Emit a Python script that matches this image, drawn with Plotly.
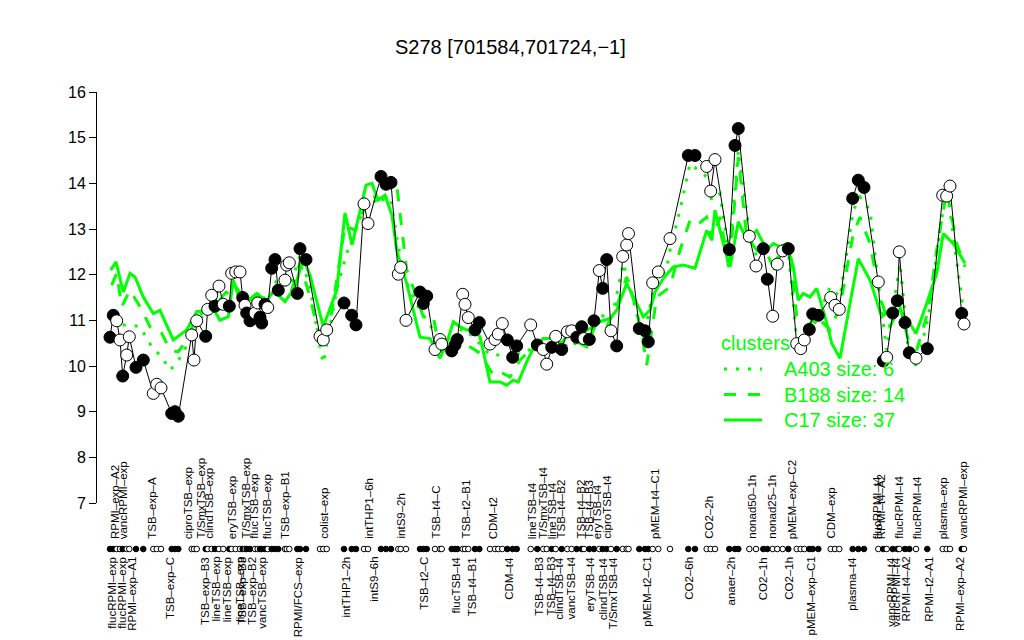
import plotly.graph_objects as go

# sample positions along the condition axis, expression values, filled marker flag
pos = [10, 13.3, 16.7, 20, 22.7, 26.7, 29.3, 36, 43.3, 53.3, 56.7, 61, 71.7, 75, 78.3,
       91.7, 94, 96.7, 105.7, 107.7, 111.7, 115, 119, 123.3, 129.3, 131.7, 135.7, 140,
       142.7, 145, 146.7, 150, 155, 157.7, 160, 161.7, 165, 167.7, 171.7, 175, 178.3,
       185, 186.7, 189.3, 197.3, 200, 206, 220, 223.3, 226.7, 244, 251.7, 256, 264, 268,
       281, 286, 291, 298.3, 300.7, 306, 320, 323.3, 326.7, 335, 340, 341.7, 351.7, 355,
       357.3, 362.7, 365, 368.3, 375, 379.3, 390, 395, 398.3, 402.3, 407.3, 412.7, 416.7,
       430.7, 437.3, 443.3, 446.7, 451.7, 455.7, 461.7, 467.3, 471.7, 476.7, 481.7, 484,
       489.3, 494, 499.3, 502.7, 506.7, 511, 516.7, 522.7, 526.7, 528.5, 539.3, 545,
       548.3, 552.7, 558.3, 570, 588.3, 595, 606.7, 610.7, 615, 629.3, 635, 638.3, 649.3,
       656, 663.3, 667.3, 672.7, 677.3, 682.7, 688.3, 696.7, 700.7, 704.3, 709.3, 712.7,
       718.3, 730.7, 735, 739.3, 752.7, 758.3, 764, 778.3, 783.3, 786.7, 792.7, 797.3,
       799.3, 805, 809.3, 816, 827.3, 842.7, 846.7, 850, 861.7, 864]
expr = [10.63, 11.11, 10.99, 10.57, 9.78, 10.24, 10.64, 9.97, 10.13, 9.40, 9.60, 9.52, 8.96,
        9.00, 8.90, 10.68, 10.13, 10.99, 10.65, 11.24, 11.55, 11.31, 11.75, 11.35, 11.31,
        12.03, 12.06, 12.06, 11.50, 11.33, 11.16, 10.99, 11.16, 11.38, 11.07, 10.94, 11.35,
        11.28, 12.14, 12.33, 11.66, 11.88, 12.21, 12.26, 11.59, 12.57, 12.33, 10.65, 10.57,
        10.79, 11.38, 11.11, 10.90, 13.55, 13.12, 14.15, 13.98, 14.02, 12.01, 12.16, 11.00,
        11.62, 11.37, 11.53, 10.36, 10.58, 10.48, 10.33, 10.46, 10.58, 11.57, 11.35, 11.06,
        10.79, 10.95, 10.48, 10.58, 10.70, 10.93, 10.57, 10.19, 10.44, 10.90, 10.46, 10.36,
        10.04, 10.41, 10.65, 10.36, 10.75, 10.77, 10.63, 10.86, 10.60, 10.58, 10.99, 12.09,
        11.70, 12.33, 10.77, 10.44, 12.40, 12.65, 12.90, 10.82, 10.77, 10.53, 11.82, 12.06,
        12.79, 14.61, 14.61, 14.37, 13.83, 14.52, 12.55, 14.83, 15.20, 12.84, 12.19, 12.57,
        11.90, 11.09, 12.23, 12.52, 12.57, 10.49, 10.38, 10.57, 10.80, 11.14, 11.11, 11.50,
        11.33, 11.24, 13.67, 14.07, 13.91, 11.84, 10.11, 10.19, 11.16, 11.43, 12.50, 10.95,
        10.29, 10.17, 10.38, 13.74, 13.72, 13.94, 11.15, 10.92]
filled = [1, 1, 0, 0, 1, 0, 0, 1, 1, 0, 0, 0, 1, 1, 1, 0, 0, 0, 1, 0, 0, 1, 0, 0, 1, 0, 0, 0,
          1, 0, 1, 1, 0, 0, 1, 1, 1, 0, 1, 1, 1, 0, 0, 0, 1, 1, 1, 0, 0, 0, 1, 1, 1, 0, 0,
          1, 1, 1, 0, 0, 0, 1, 1, 1, 0, 0, 0, 1, 1, 1, 0, 0, 0, 1, 1, 0, 0, 0, 0, 1, 1, 1,
          0, 1, 0, 0, 1, 0, 1, 0, 0, 1, 1, 0, 1, 1, 0, 1, 1, 0, 1, 0, 0, 0, 1, 1, 1, 0, 0,
          0, 1, 1, 0, 0, 0, 1, 1, 1, 0, 0, 1, 1, 0, 0, 0, 1, 0, 0, 0, 1, 1, 1, 0, 0, 0, 1,
          1, 1, 0, 1, 0, 1, 1, 0, 1, 1, 0, 1, 0, 0, 0, 1, 0]

# cluster mean profiles
c17_pos = [10.7, 16, 23.3, 30, 35, 43.3, 53.3, 60, 73.3, 86.7, 96.7, 106.7, 115, 120, 128.3,
           133.3, 138.3, 146.7, 156.7, 166.7, 171.7, 175, 185, 195, 203.3, 210, 223.3, 236.7,
           245, 252, 266, 272, 278, 285, 292, 296.7, 306.7, 320, 330, 340, 346.7, 353.3, 360,
           366.7, 375, 380, 390, 400, 406.7, 413.3, 418.3, 426.7, 435, 443.3, 453.3, 461.7,
           470, 480, 493.3, 500, 510, 516.7, 526.7, 536.7, 543.3, 550, 555, 563.3, 573.3,
           583.3, 595, 606.7, 611.7, 615, 623.3, 630, 638.3, 646.7, 656.7, 666.7, 673.3, 680,
           686.7, 693.3, 698.3, 703.3, 710, 716.7, 725, 731.7, 740, 750, 758.3, 770, 781.7,
           790, 800, 806.7, 816, 826.7, 836.7, 843.3, 853.3, 865]
c17_val = [12.1, 12.28, 11.62, 12.03, 11.95, 11.51, 11.15, 11.22, 10.57, 10.79, 11.19, 11.22,
           11.19, 11.0, 11.08, 11.88, 11.55, 11.41, 11.59, 11.41, 11.59, 11.62, 11.41, 11.73,
           12.35, 11.99, 10.86, 11.66, 13.35, 12.65, 13.96, 14.0, 13.63, 13.74, 13.3, 12.53,
           11.81, 10.63, 10.6, 10.17, 10.5, 10.97, 10.86, 10.79, 10.79, 10.64, 9.65, 9.65,
           9.58, 9.69, 9.65, 10.09, 10.46, 10.6, 10.6, 10.5, 10.75, 10.71, 10.86, 10.97, 11.04,
           11.22, 11.81, 11.37, 11.08, 11.22, 11.62, 11.92, 12.17, 12.21, 12.14, 12.97, 12.76,
           13.41, 12.68, 12.17, 13.16, 12.76, 12.97, 12.54, 12.68, 12.61, 12.68, 12.17, 11.44,
           11.59, 11.51, 11.7, 11.08, 10.5, 10.17, 11.37, 12.35, 11.88, 11.08, 11.22, 11.22,
           11.04, 10.71, 11.37, 12.03, 12.9, 12.68, 12.25]

b188_pos = [11.7, 16.7, 21.7, 30, 40, 50, 60, 70, 78.3, 86.7, 96.7, 116.7, 133.3, 146.7, 156.7,
            170, 176.7, 190, 200, 210, 220, 226.7, 236.7, 245, 255, 270, 285, 296, 302, 306.7,
            316.7, 323.3, 333.3, 340, 350, 360, 370, 380, 393.3, 400, 410, 420, 433.3, 446.7,
            460, 473.3, 486.7, 496.7, 506.7, 516.7, 526.7, 536.7, 543.3, 546.7, 556.7, 570,
            580, 590, 596.7, 606.7, 611.7, 620, 629.3, 638.3, 646.7, 656.7, 666.7, 673.3,
            683.3, 690, 696.7, 706.7, 716.7, 730, 740, 753.3, 760, 770, 780, 790, 800, 808.3,
            816.7, 828.3, 836.7, 846.7, 856.7, 865]
b188_val = [11.77, 12.03, 11.3, 11.66, 11.3, 10.86, 10.79, 10.35, 10.31, 10.57, 11.08, 11.37,
            11.81, 11.41, 11.55, 11.59, 11.66, 11.55, 12.25, 11.51, 10.57, 10.5, 11.88, 13.08,
            12.97, 13.74, 13.63, 14.11, 12.97, 12.1, 11.51, 11.08, 11.08, 10.31, 10.57, 10.64,
            10.42, 10.28, 9.8, 9.87, 9.76, 10.13, 10.42, 10.31, 10.35, 10.57, 10.42, 10.97,
            10.86, 11.3, 11.95, 11.22, 10.5, 10.02, 11.51, 11.73, 12.54, 13.19, 13.08, 13.26,
            12.76, 13.26, 12.1, 14.58, 12.83, 12.54, 12.47, 12.17, 12.61, 12.54, 11.08, 10.86,
            11.08, 10.79, 11.3, 12.9, 13.26, 12.68, 11.51, 10.86, 11.3, 10.57, 10.35, 11.22,
            12.54, 13.85, 12.68, 12.17]

a403_pos = [11, 23.3, 30, 40, 51.7, 61.7, 70, 76.7, 90, 96.7, 106.7, 118.3, 133.3, 143.3,
            156.7, 170, 176.7, 190, 200, 210, 220, 223.3, 236.7, 246.7, 265, 290, 298, 306.7,
            320, 333.3, 340, 353.3, 361.7, 373.3, 390, 400, 410, 423.3, 436.7, 450, 463.3,
            476.7, 486.7, 500, 510, 523.3, 533.3, 543.3, 553.3, 566.7, 570, 580, 590, 606.7,
            611.7, 620, 629.3, 638.3, 650, 656.7, 670, 680, 688.3, 696.7, 706.7, 716.7, 730,
            740, 753.3, 760, 770, 778.3, 786.7, 800, 808.3, 816.7, 828.3, 840, 846.7, 863.3]
a403_val = [10.95, 10.9, 10.9, 10.86, 10.42, 10.2, 9.91, 10.06, 10.57, 11.0, 11.15, 11.3,
            11.81, 11.3, 11.51, 11.48, 11.88, 11.73, 12.43, 11.73, 10.42, 10.06, 11.66, 12.47,
            13.52, 13.74, 12.65, 11.81, 11.22, 10.79, 10.35, 10.35, 10.82, 10.64, 10.24,
            10.24, 10.13, 10.35, 10.35, 10.28, 10.42, 10.5, 10.6, 11.19, 10.86, 12.25, 11.44,
            10.57, 11.66, 12.14, 12.54, 13.41, 14.43, 14.14, 13.63, 13.77, 12.39, 14.72, 12.83,
            12.39, 11.81, 12.54, 12.54, 10.57, 10.71, 11.0, 11.73, 11.51, 13.41, 13.7, 13.41,
            11.81, 10.35, 12.25, 10.35, 9.98, 11.08, 12.97, 13.92, 11.22]

top_label_pos = [15, 23.3, 51.7, 88.3, 100, 108.3, 131.7, 145, 153.3, 166.7, 185, 223.3,
                 268.3, 300, 335, 365, 393.3, 431.7, 442.7, 451.7, 460, 480, 488.3, 496.7,
                 506.7, 555, 608.3, 651.7, 671.7, 691.7, 730, 776.7, 780.7, 798.3, 816.7,
                 843.3, 863.3]
top_label_text = ["RPMI\u2013exp\u2013A2", "vancRPMI\u2013exp", "TSB\u2013exp\u2013A",
                  "ciproTSB\u2013exp", "T/SmxTSB\u2013exp", "clindTSB\u2013exp", "eryTSB\u2013exp",
                  "T/SmxTSB\u2013exp", "flucTSB\u2013exp", "flucTSB\u2013exp", "TSB\u2013exp\u2013B1",
                  "colist\u2013exp", "intTHP1\u20136h", "intS9\u20132h", "TSB\u2013t4\u2013C",
                  "TSB\u2013t2\u2013B1", "CDM\u2013t2", "lineTSB\u2013t4", "T/SmxTSB\u2013t4",
                  "lineTSB\u2013t4", "TSB\u2013t4\u2013B2", "TSB\u2013t4\u2013B2", "TSB\u2013t4\u2013B3",
                  "eryTSB\u2013t4", "ciproTSB\u2013t4", "pMEM\u2013t4\u2013C1", "CO2\u20132h",
                  "nonad50\u20131h", "nonad25\u20131h", "pMEM\u2013exp\u2013C2", "CDM\u2013exp",
                  "flucRPMI\u2013t4", "RPMI\u2013t4\u2013A2", "flucRPMI\u2013t4", "flucRPMI\u2013t4",
                  "plasma\u2013exp", "vancRPMI\u2013exp"]
bottom_label_pos = [11.7, 21.7, 31.7, 70, 105, 115, 126.7, 139.3, 141.7, 151.7, 161.7, 198.3,
                    245, 273.3, 323.3, 355, 371.7, 408.3, 438.3, 450, 458.3, 470, 489.3, 502.7,
                    513.3, 546.7, 588.3, 630, 662.7, 688.3, 710, 751.7, 790.7, 796, 805,
                    828.3, 860]
bottom_label_text = ["flucRPMI\u2013exp", "flucRPMI\u2013exp", "RPMI\u2013exp\u2013A1",
                     "TSB\u2013exp\u2013C", "TSB\u2013exp\u2013B3", "lineTSB\u2013exp", "lineTSB\u2013exp",
                     "lineTSB\u2013exp", "TSB\u2013exp\u2013B3", "TSB\u2013exp\u2013B2", "vancTSB\u2013exp",
                     "RPMI/FCS\u2013exp", "intTHP1\u20132h", "intS9\u20136h", "TSB\u2013t2\u2013C",
                     "flucTSB\u2013t4", "TSB\u2013t4\u2013B1", "CDM\u2013t4", "TSB\u2013t4\u2013B3",
                     "TSB\u2013t4\u2013B3", "clindTSB\u2013t4", "vancTSB\u2013t4", "eryTSB\u2013t4",
                     "clindTSB\u2013t4", "T/SmxTSB\u2013t4", "pMEM\u2013t2\u2013C1", "CO2\u20136h",
                     "anaer\u20132h", "CO2\u20131h", "CO2\u20131h", "pMEM\u2013exp\u2013C1",
                     "plasma\u2013t4", "vancRPMI\u2013t4", "vancRPMI\u2013t4", "RPMI\u2013t4\u2013A2",
                     "RPMI\u2013t2\u2013A1", "RPMI\u2013exp\u2013A2"]

cluster_names = ["A403 size: 6", "B188 size: 14", "C17 size: 37"]

GREEN = "#00FF00"
FONT = "Liberation Sans, Arial, Helvetica, sans-serif"

# the page puts the figure 8px in from the corner, so work in window pixels
OFF = 8
W, H = 1024, 640
L, T = 97 - OFF, 92 - OFF
R = W - (975 - OFF)
B = H - (503 - OFF)
pw, ph = W - L - R, H - T - B


def px_x(X):
    return (X - OFF - L) / pw


def px_y(Y):
    return (H - B - (Y - OFF)) / ph


fig = go.Figure()

styles = [(a403_pos, a403_val, "3px,9px"), (b188_pos, b188_val, "12px,12px"),
          (c17_pos, c17_val, "solid")]
for xs, ys, dash in styles:
    fig.add_trace(go.Scatter(x=xs, y=ys, mode="lines",
                             line=dict(color=GREEN, width=3, dash=dash),
                             hoverinfo="skip"))

fill_cols = ["black" if f else "white" for f in filled]
fig.add_trace(go.Scatter(x=pos, y=expr, mode="lines+markers",
                         line=dict(color="black", width=1),
                         marker=dict(size=12, color=fill_cols,
                                     line=dict(color="black", width=1))))

shapes = []
# rug of samples under the axis
for x, c in zip(pos, fill_cols):
    shapes.append(dict(type="circle", xref="x", yref="paper",
                       xsizemode="pixel", ysizemode="pixel", xanchor=x, yanchor=px_y(549),
                       x0=-2.8, x1=2.8, y0=-2.8, y1=2.8, fillcolor=c,
                       line=dict(color="black", width=1)))

ann = []
for x, t in zip(top_label_pos, top_label_text):
    ann.append(dict(x=x, y=px_y(540), xref="x", yref="paper", text=t, textangle=-90,
                    xanchor="center", yanchor="bottom", showarrow=False, borderpad=0,
                    font=dict(size=11.5, color="black", family=FONT)))
for x, t in zip(bottom_label_pos, bottom_label_text):
    ann.append(dict(x=x, y=px_y(556), xref="x", yref="paper", text=t, textangle=-90,
                    xanchor="center", yanchor="top", showarrow=False, borderpad=0,
                    font=dict(size=11.5, color="black", family=FONT)))

# legend
ann.append(dict(x=px_x(719), y=px_y(343), xref="paper", yref="paper", text="clusters",
                xanchor="left", yanchor="middle", showarrow=False,
                font=dict(size=20, color=GREEN, family=FONT)))
for i, (name, (_, _, dash)) in enumerate(zip(cluster_names, styles)):
    yy = 369 + 25.5 * i
    ann.append(dict(x=px_x(782), y=px_y(yy), xref="paper", yref="paper", text=name,
                    xanchor="left", yanchor="middle", showarrow=False,
                    font=dict(size=20, color=GREEN, family=FONT)))
    shapes.append(dict(type="line", xref="paper", yref="paper",
                       x0=px_x(724), x1=px_x(762), y0=px_y(yy), y1=px_y(yy),
                       line=dict(color=GREEN, width=3, dash=dash)))

ann.append(dict(x=px_x(510), y=px_y(47), xref="paper", yref="paper",
                text="S278 [701584,701724,\u22121]", xanchor="center", yanchor="middle",
                showarrow=False, font=dict(size=20, color="black", family=FONT)))

fig.update_layout(
    width=W, height=H, margin=dict(l=L, r=R, t=T, b=B),
    plot_bgcolor="white", paper_bgcolor="white", showlegend=False,
    annotations=ann, shapes=shapes,
    xaxis=dict(range=[-3, 875], visible=False, fixedrange=True),
    yaxis=dict(range=[7, 16], tickvals=list(range(7, 17)), showgrid=False, zeroline=False,
               showline=True, linecolor="black", linewidth=1, ticks="outside", ticklen=7,
               tickcolor="black", tickfont=dict(size=16, color="black", family=FONT)),
)

fig.write_html("out.html")
